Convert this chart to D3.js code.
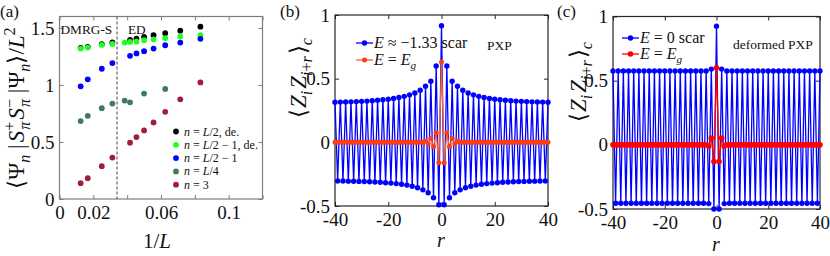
<!DOCTYPE html>
<html>
<head>
<meta charset="utf-8">
<script src="https://cdn.jsdelivr.net/npm/d3@7"></script>
<style>
  body { margin: 0; background: #fff; }
  svg text { font-family: "Liberation Serif", "Times New Roman", serif; fill: #111; }
</style>
</head>
<body>
<svg id="fig" width="830" height="256" font-family="Liberation Serif"></svg>
<script>
// ---------------- panel (a) data ----------------
var invL_dmrg = [0.0125, 0.0167, 0.025, 0.03125];            // L = 80, 60, 40, 32
var invL_ed   = [0.0385, 0.0417, 0.0455, 0.05, 0.0556, 0.0625, 0.0714, 0.0833]; // L = 26 ... 12
var splitInvL = 0.034;

var halfDe_dmrg  = [1.325, 1.334, 1.357, 1.372];
var halfDe_ed    = [null, 1.395, 1.406, 1.421, 1.436, 1.453, 1.476, 1.511];
var half1De_dmrg = [1.319, 1.328, 1.351, 1.360];
var half1De_ed   = [1.371, 1.377, 1.380, 1.392, 1.400, 1.410, 1.424, 1.436];
var half1_dmrg   = [0.988, 1.049, 1.142, 1.192];
var half1_ed     = [null, 1.255, 1.276, 1.296, 1.319, 1.348, 1.371, 1.404];
var quarter_dmrg = [0.683, 0.729, 0.796, 0.837];
var quarter_ed   = [0.863, 0.848, null, 0.924, null, 0.965, null, null];
var three_dmrg   = [0.139, 0.183, 0.288, 0.363];
var three_ed     = [null, 0.494, 0.543, 0.601, 0.671, 0.764, 0.874, 1.022];

var seriesA = [
  { label: [["n", 1], [" = ", 0], ["L", 1], ["/2, de.", 0]],          color: "#000000", dmrg: halfDe_dmrg,  ed: halfDe_ed },
  { label: [["n", 1], [" = ", 0], ["L", 1], ["/2 \u2212 1, de.", 0]], color: "#1fff1f", dmrg: half1De_dmrg, ed: half1De_ed },
  { label: [["n", 1], [" = ", 0], ["L", 1], ["/2 \u2212 1", 0]],      color: "#0000ff", dmrg: half1_dmrg,   ed: half1_ed },
  { label: [["n", 1], [" = ", 0], ["L", 1], ["/4", 0]],               color: "#3e7a5e", dmrg: quarter_dmrg, ed: quarter_ed },
  { label: [["n", 1], [" = 3", 0]],                                   color: "#a31c3c", dmrg: three_dmrg,   ed: three_ed }
];

var xTicksA = [0, 0.02, 0.04, 0.06, 0.08, 0.1, 0.12];
var xLabelsA = ["0", "0.02", "", "0.06", "", "0.1", ""];
var yTicksA = [0, 0.5, 1, 1.5];
var yLabelsA = ["0", "0.5", "1", "1.5"];

// ---------------- panels (b), (c) data ----------------
var rVals = d3.range(-40, 41);

var scarB = [
   0.315, -0.303,  0.316, -0.304,  0.317, -0.305,  0.318, -0.306,  0.320, -0.307,
   0.322, -0.308,  0.324, -0.310,  0.327, -0.312,  0.330, -0.314,  0.334, -0.317,
   0.339, -0.320,  0.345, -0.324,  0.352, -0.329,  0.361, -0.336,  0.373, -0.345,
   0.388, -0.357,  0.410, -0.373,  0.440, -0.396,  0.480, -0.435,  0.600, -0.490,
   0.915,
  -0.490,  0.600, -0.435,  0.480, -0.396,  0.440, -0.373,  0.410, -0.357,  0.388,
  -0.345,  0.373, -0.336,  0.361, -0.329,  0.352, -0.324,  0.345, -0.320,  0.339,
  -0.317,  0.334, -0.314,  0.330, -0.312,  0.327, -0.310,  0.324, -0.308,  0.322,
  -0.307,  0.320, -0.306,  0.318, -0.305,  0.317, -0.304,  0.316, -0.303,  0.315
];
var groundB = [
  0, 0, 0, 0, 0, 0, 0, 0, 0, 0,
  0, 0, 0, 0, 0, 0, 0, 0, 0, 0,
  0, 0, 0, 0, 0, 0, 0, 0, 0, 0,
  0, 0, 0, 0,
  0.008, -0.012, 0.03, -0.035, 0.075, -0.16, 0.63, -0.16, 0.075, -0.035, 0.03, -0.012, 0.008,
  0, 0, 0, 0, 0, 0, 0, 0, 0, 0,
  0, 0, 0, 0, 0, 0, 0, 0, 0, 0,
  0, 0, 0, 0, 0, 0, 0, 0, 0, 0,
  0, 0, 0, 0
];
var scarC = [
   0.575, -0.455,  0.575, -0.455,  0.575, -0.455,  0.575, -0.455,  0.575, -0.455,
   0.575, -0.455,  0.575, -0.455,  0.575, -0.455,  0.575, -0.455,  0.575, -0.455,
   0.575, -0.455,  0.575, -0.455,  0.575, -0.455,  0.575, -0.455,  0.575, -0.455,
   0.575, -0.455,  0.575, -0.455,  0.575, -0.455,
   0.575, -0.458,  0.590, -0.500,  0.925, -0.500,  0.590, -0.458,  0.575,
  -0.455,  0.575, -0.455,  0.575, -0.455,  0.575, -0.455,  0.575, -0.455,  0.575,
  -0.455,  0.575, -0.455,  0.575, -0.455,  0.575, -0.455,  0.575, -0.455,  0.575,
  -0.455,  0.575, -0.455,  0.575, -0.455,  0.575, -0.455,  0.575, -0.455,  0.575,
  -0.455,  0.575, -0.455,  0.575, -0.455,  0.575
];
var groundC = [
  0, 0, 0, 0, 0, 0, 0, 0, 0, 0,
  0, 0, 0, 0, 0, 0, 0, 0, 0, 0,
  0, 0, 0, 0, 0, 0, 0, 0, 0, 0,
  0, 0, 0, 0, 0, 0, 0,
  -0.01, 0.053, -0.13, 0.60, -0.13, 0.053, -0.01,
  0, 0, 0, 0, 0, 0, 0, 0, 0, 0,
  0, 0, 0, 0, 0, 0, 0, 0, 0, 0,
  0, 0, 0, 0, 0, 0, 0, 0, 0, 0,
  0, 0, 0, 0, 0, 0, 0
];

var rTicks = [-40, -20, 0, 20, 40];
var zTicks = [-0.5, 0, 0.5, 1];
var zLabels = ["-0.5", "0", "0.5", "1"];

// ---------------- helpers ----------------
var svg = d3.select("#fig");
var serif = '"Liberation Serif", "Times New Roman", serif';
var tickFont = 19;

// math-ish text: parts are [text, italic, level, dx] with level 1 = sup, -1 = sub
function mathText(g, x, y, size, parts, rotate, anchor) {
  var t = g.append("text")
    .attr("x", x).attr("y", y)
    .attr("font-size", size)
    .attr("font-family", serif)
    .attr("text-anchor", anchor || "start");
  if (rotate) t.attr("transform", "rotate(-90," + x + "," + y + ")");
  var shift = 0;
  parts.forEach(function (p) {
    var lvl = p[2] || 0;
    var off = lvl > 0 ? -0.4 * size : lvl < 0 ? 0.25 * size : 0;
    var ts = t.append("tspan").text(p[0]).attr("dy", off - shift);
    shift = off;
    if (p[1]) ts.attr("font-style", "italic");
    if (lvl) ts.attr("font-size", size * 0.7);
    if (p[3]) ts.attr("dx", p[3]);
  });
  return t;
}

function drawFrame(g, x, y, xt, xl, yt, yl, color) {
  var bx = x.range(), by = y.range();
  var ax = function (a) {
    a.attr("font-family", serif);
    a.select(".domain").remove();
    a.selectAll(".tick line").attr("stroke", color);
    a.selectAll(".tick text").attr("font-size", tickFont).attr("fill", "#111")
      .attr("font-family", serif);
  };
  g.append("g").attr("transform", "translate(0," + by[0] + ")")
    .call(d3.axisBottom(x).tickValues(xt).tickSize(-4).tickPadding(7)
      .tickFormat(function (d, i) { return xl[i]; }))
    .call(ax);
  g.append("g").attr("transform", "translate(0," + by[1] + ")")
    .call(d3.axisTop(x).tickValues(xt).tickSize(-4).tickFormat(""))
    .call(ax);
  g.append("g").attr("transform", "translate(" + bx[0] + ",0)")
    .call(d3.axisLeft(y).tickValues(yt).tickSize(-4).tickPadding(5)
      .tickFormat(function (d, i) { return yl[i]; }))
    .call(ax);
  g.append("g").attr("transform", "translate(" + bx[1] + ",0)")
    .call(d3.axisRight(y).tickValues(yt).tickSize(-4).tickFormat(""))
    .call(ax);
  g.append("rect")
    .attr("x", bx[0]).attr("y", by[1])
    .attr("width", bx[1] - bx[0]).attr("height", by[0] - by[1])
    .attr("fill", "none").attr("stroke", color).attr("stroke-width", 1.2);
}

// ---------------- panel (a) ----------------
var xA = d3.scaleLinear([0, 0.12], [59.5, 262.5]);
var yA = d3.scaleLinear([0, 1.6], [199, 16.5]);
var gA = svg.append("g");

drawFrame(gA, xA, yA, xTicksA, xLabelsA, yTicksA, yLabelsA, "#7d7d7d");

gA.append("line")
  .attr("x1", xA(splitInvL)).attr("x2", xA(splitInvL))
  .attr("y1", yA(1.6)).attr("y2", yA(0))
  .attr("stroke", "#444").attr("stroke-width", 1).attr("stroke-dasharray", "3,2");

gA.append("text").attr("x", 60.5).attr("y", 34).attr("font-size", 13.3).text("DMRG-S");
gA.append("text").attr("x", 128).attr("y", 34).attr("font-size", 13.3).text("ED");

seriesA.forEach(function (s) {
  var pts = [];
  s.dmrg.forEach(function (v, i) { pts.push([invL_dmrg[i], v]); });
  s.ed.forEach(function (v, i) { if (v != null) pts.push([invL_ed[i], v]); });
  gA.append("g").selectAll("circle").data(pts).join("circle")
    .attr("cx", function (d) { return xA(d[0]); })
    .attr("cy", function (d) { return yA(d[1]); })
    .attr("r", 2.9).attr("fill", s.color);
});

// legend (a)
seriesA.forEach(function (s, i) {
  var ly = 131.5 + i * 13.3;
  gA.append("circle").attr("cx", 176).attr("cy", ly).attr("r", 2.9).attr("fill", s.color);
  mathText(gA, 184, ly + 4, 12, s.label.map(function (p) { return [p[0], p[1]]; }));
});

mathText(gA, 24, 108, 23, [
  ["\u27E8\u03A8", 0], ["n", 1, -1], [" |", 0], ["S", 1, 0, 2], ["+", 0, 1], ["\u03C0", 1, -1, -8],
  ["S", 1, 0, 2], ["\u2212", 0, 1], ["\u03C0", 1, -1, -8], [" |\u03A8", 0], ["n", 1, -1],
  ["\u27E9/", 0], ["L", 1], ["2", 0, 1]
], true, "middle");
mathText(gA, 157, 248, 21, [["1/", 0], ["L", 1]], false, "middle");
gA.append("text").attr("x", 0).attr("y", 17).attr("font-size", 17).text("(a)");

// ---------------- panels (b) and (c) ----------------
function corrPanel(x, y, scar, ground, scarColor, gLine, gMark, gR) {
  var g = svg.append("g");
  drawFrame(g, x, y, rTicks, rTicks.map(String), zTicks, zLabels, "#262626");
  var line = d3.line()
    .x(function (d, i) { return x(rVals[i]); })
    .y(function (d) { return y(d); });
  g.append("path").datum(scar).attr("d", line)
    .attr("fill", "none").attr("stroke", scarColor).attr("stroke-width", 1.3);
  g.append("g").selectAll("circle").data(scar).join("circle")
    .attr("cx", function (d, i) { return x(rVals[i]); })
    .attr("cy", function (d) { return y(d); })
    .attr("r", 2.7).attr("fill", scarColor);
  g.append("path").datum(ground).attr("d", line)
    .attr("fill", "none").attr("stroke", gLine).attr("stroke-width", 1.3);
  g.append("g").selectAll("circle").data(ground).join("circle")
    .attr("cx", function (d, i) { return x(rVals[i]); })
    .attr("cy", function (d) { return y(d); })
    .attr("r", gR).attr("fill", gMark);
  return g;
}

function legendRow(g, x0, x1, y, lineColor, markColor, mr, parts, size) {
  g.append("line").attr("x1", x0).attr("x2", x1).attr("y1", y).attr("y2", y)
    .attr("stroke", lineColor).attr("stroke-width", 1.3);
  g.append("circle").attr("cx", (x0 + x1) / 2).attr("cy", y).attr("r", mr).attr("fill", markColor);
  mathText(g, x1 + 1, y + 5, size, parts);
}

var zLabelParts = [
  ["\u27E8", 0], ["Z", 1, 0, 1], ["i", 1, -1], ["Z", 1, 0, 2], ["i", 1, -1], ["+", 0, -1], ["r", 1, -1],
  ["\u27E9", 0, 0, 2], ["c", 1, -1]
];

// (b)
var xB = d3.scaleLinear([-40, 40], [335, 548]);
var yB = d3.scaleLinear([-0.5, 1], [206, 15]);
var gB = corrPanel(xB, yB, scarB, groundB, "#0000ff", "#f0603a", "#ff3c14", 2.5);
legendRow(gB, 356, 373, 43, "#0000ff", "#0000ff", 2.7,
  [["E", 1], [" \u2248 \u22121.33 scar", 0]], 16);
legendRow(gB, 356, 373, 60, "#f0603a", "#ff3c14", 2.5,
  [["E", 1], [" = ", 0], ["E", 1], ["g", 1, -1]], 16);
gB.append("text").attr("x", 487).attr("y", 50).attr("font-size", 13.5).text("PXP");
mathText(gB, 306, 78, 23, zLabelParts, true, "middle");
mathText(gB, 441, 247, 20, [["r", 1]], false, "middle");
gB.append("text").attr("x", 280).attr("y", 17).attr("font-size", 17).text("(b)");

// (c)
var xC = d3.scaleLinear([-40, 40], [613, 820]);
var yC = d3.scaleLinear([-0.5, 1], [209, 16.5]);
var gC = corrPanel(xC, yC, scarC, groundC, "#0000ff", "#ff0000", "#ff0000", 2.8);
legendRow(gC, 622, 639, 38, "#0000ff", "#0000ff", 2.7,
  [["E", 1], [" = 0 scar", 0]], 16);
legendRow(gC, 622, 639, 54, "#ff0000", "#ff0000", 2.8,
  [["E", 1], [" = ", 0], ["E", 1], ["g", 1, -1]], 16);
gC.append("text").attr("x", 733).attr("y", 49).attr("font-size", 13.5).text("deformed PXP");
mathText(gC, 586, 82, 23, zLabelParts, true, "middle");
mathText(gC, 716, 251, 20, [["r", 1]], false, "middle");
gC.append("text").attr("x", 557).attr("y", 17).attr("font-size", 17).text("(c)");
</script>
</body>
</html>
